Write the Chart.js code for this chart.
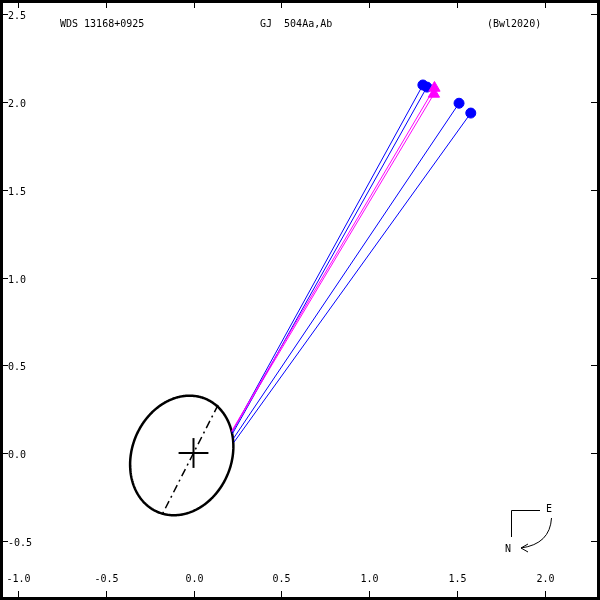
<!DOCTYPE html>
<html>
<head>
<meta charset="utf-8">
<script src="https://cdn.jsdelivr.net/npm/chart.js@4"></script>
<style>
  html, body { margin: 0; padding: 0; background: #fff; }
  canvas { display: block; }
</style>
</head>
<body>
<canvas id="orbitChart" width="600" height="600"></canvas>
<script>
// observed positions (arcsec) and their predicted positions on the orbit
const obsBlueX = [1.307, 1.330, 1.513, 1.580];
const obsBlueY = [2.097, 2.085, 1.993, 1.937];
const predBlueX = [0.219, 0.222, 0.229, 0.231];
const predBlueY = [0.117, 0.110, 0.085, 0.062];

const obsMagX = [1.373, 1.370];
const obsMagY = [2.080, 2.046];
const predMagX = [0.217, 0.219];
const predMagY = [0.124, 0.121];

// apparent orbit ellipse: centre, semi-axes, tilt (deg)
const ellCenter = [-0.067, -0.014];
const ellAxes = [0.350, 0.283];
const ellTilt = [67];

// line of nodes ends
const nodeX = [0.140, -0.174];
const nodeY = [0.274, -0.342];

// primary cross
const crossX = [-0.085, 0.085];
const crossY = [-0.085, 0.085];

const xTicks = [-1.0, -0.5, 0.0, 0.5, 1.0, 1.5, 2.0];
const yTicks = [2.5, 2.0, 1.5, 1.0, 0.5, 0.0, -0.5];

const titleLeft = 'WDS 13168+0925';
const titleMid = 'GJ  504Aa,Ab';
const titleRight = '(Bwl2020)';

// build the ellipse outline
const ellipse = [];
const th = ellTilt[0] * Math.PI / 180;
for (let i = 0; i <= 240; i++) {
  const t = i / 240 * 2 * Math.PI;
  const u = ellAxes[0] * Math.cos(t), v = ellAxes[1] * Math.sin(t);
  ellipse.push({
    x: ellCenter[0] + u * Math.cos(th) - v * Math.sin(th),
    y: ellCenter[1] + u * Math.sin(th) + v * Math.cos(th)
  });
}

const datasets = [];
// O-C lines
obsBlueX.forEach((x, i) => {
  datasets.push({
    data: [{ x: x, y: obsBlueY[i] }, { x: predBlueX[i], y: predBlueY[i] }],
    showLine: true, borderColor: '#0000ff', borderWidth: 1, pointRadius: 0, order: 5
  });
});
obsMagX.forEach((x, i) => {
  datasets.push({
    data: [{ x: x, y: obsMagY[i] }, { x: predMagX[i], y: predMagY[i] }],
    showLine: true, borderColor: '#ff00ff', borderWidth: 1, pointRadius: 0, order: 4
  });
});
// tiny tension keeps chart.js off its x-sorted fast path
datasets.push({
  data: ellipse, showLine: true, borderColor: '#000', borderWidth: 2.5,
  tension: 0.001, pointRadius: 0, order: 6
});
datasets.push({
  data: [{ x: nodeX[0], y: nodeY[0] }, { x: nodeX[1], y: nodeY[1] }],
  showLine: true, borderColor: '#000', borderWidth: 1.5, borderDash: [8, 4, 2, 4],
  pointRadius: 0, order: 6
});
datasets.push({
  data: [{ x: crossX[0], y: 0 }, { x: crossX[1], y: 0 }],
  showLine: true, borderColor: '#000', borderWidth: 2, pointRadius: 0, order: 6
});
datasets.push({
  data: [{ x: 0, y: crossY[0] }, { x: 0, y: crossY[1] }],
  showLine: true, borderColor: '#000', borderWidth: 2, pointRadius: 0, order: 6
});
datasets.push({
  data: obsBlueX.map((x, i) => ({ x: x, y: obsBlueY[i] })),
  pointStyle: 'circle', pointRadius: 5, backgroundColor: '#0000ff',
  borderColor: '#0000ff', showLine: false, order: 2
});
datasets.push({
  data: obsMagX.map((x, i) => ({ x: x, y: obsMagY[i] })),
  pointStyle: 'triangle', pointRadius: 6.5, backgroundColor: '#ff00ff',
  borderColor: '#ff00ff', showLine: false, order: 1
});

const frame = {
  id: 'frame',
  afterDraw(chart) {
    const ctx = chart.ctx;
    const xs = chart.scales.x, ys = chart.scales.y;
    ctx.save();
    ctx.strokeStyle = '#000';
    ctx.fillStyle = '#000';
    ctx.lineWidth = 1;
    ctx.font = '10px "DejaVu Sans Mono", monospace';

    // ticks and labels
    xTicks.forEach(v => {
      const px = Math.round(xs.getPixelForValue(v)) + 0.5;
      ctx.beginPath();
      ctx.moveTo(px, 2); ctx.lineTo(px, 8);
      ctx.moveTo(px, 591); ctx.lineTo(px, 598);
      ctx.stroke();
      ctx.textAlign = 'center';
      ctx.textBaseline = 'middle';
      ctx.fillText(v.toFixed(1), px, 579);
    });
    yTicks.forEach(v => {
      const py = Math.round(ys.getPixelForValue(v)) + 0.5;
      ctx.beginPath();
      ctx.moveTo(2, py); ctx.lineTo(8, py);
      ctx.moveTo(591, py); ctx.lineTo(598, py);
      ctx.stroke();
      ctx.textAlign = 'left';
      ctx.textBaseline = 'middle';
      ctx.fillText(v.toFixed(1), 8, py + 2);
    });

    // title line
    ctx.textBaseline = 'middle';
    ctx.textAlign = 'left';
    ctx.fillText(titleLeft, 60, 24);
    ctx.fillText(titleMid, 260, 24);
    ctx.fillText(titleRight, 487, 24);

    // compass
    ctx.beginPath();
    ctx.moveTo(540, 510.5); ctx.lineTo(511.5, 510.5); ctx.lineTo(511.5, 537);
    ctx.stroke();
    ctx.textAlign = 'center';
    ctx.fillText('E', 549, 509);
    ctx.fillText('N', 508, 549);
    ctx.beginPath();
    ctx.moveTo(551.5, 518);
    ctx.quadraticCurveTo(550, 544, 521, 548);
    ctx.moveTo(521, 548); ctx.lineTo(528, 544);
    ctx.moveTo(521, 548); ctx.lineTo(528, 552);
    ctx.stroke();

    // border
    ctx.lineWidth = 3;
    ctx.strokeRect(1.5, 1.5, 597, 597);
    ctx.restore();
  }
};

new Chart(document.getElementById('orbitChart'), {
  type: 'scatter',
  data: { datasets: datasets },
  options: {
    responsive: false,
    animation: false,
    layout: { padding: 0, autoPadding: false },
    plugins: { legend: { display: false }, tooltip: { enabled: false } },
    scales: {
      x: { type: 'linear', display: false, min: -193.5 / 175.5, max: 406.5 / 175.5 },
      y: { type: 'linear', display: false, min: -147 / 175.5, max: 453 / 175.5 }
    }
  },
  plugins: [frame]
});
</script>
</body>
</html>
